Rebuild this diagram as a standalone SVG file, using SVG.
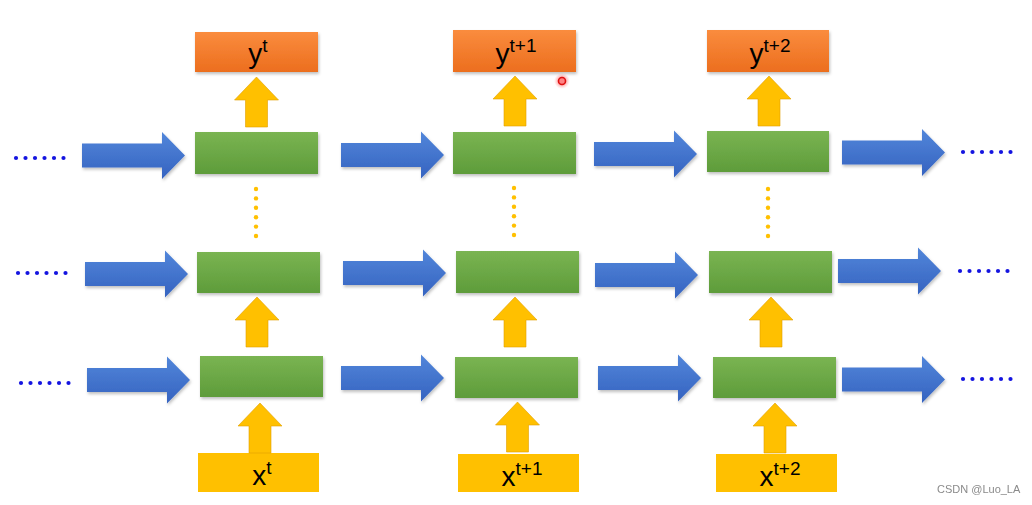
<svg xmlns="http://www.w3.org/2000/svg" xmlns:xlink="http://www.w3.org/1999/xlink" width="1032" height="505" viewBox="0 0 1032 505">
<defs>
<style>
.lbl{font-family:"Liberation Sans","Open Sans",Arial,sans-serif;font-size:28px;fill:#000;}
.sup{font-size:19px;}
.green{fill:url(#gGreen);filter:url(#sh);}
.orange{fill:url(#gOrange);filter:url(#sh);}
.yin{fill:#FFC000;}
.yarrow{fill:#FFC000;stroke:#E0A000;stroke-width:0.6;}
.barrow{fill:url(#gBlue);filter:url(#sh);}
.bdot{fill:#1414E0;}
.ydot{fill:#FFC000;}
.wm{font-family:"Liberation Sans",Arial,sans-serif;font-size:11px;fill:#8a8a8a;}
</style>
<linearGradient id="gGreen" x1="0" y1="0" x2="0" y2="1">
<stop offset="0" stop-color="#7AB452"/><stop offset="1" stop-color="#5E9C3A"/>
</linearGradient>
<linearGradient id="gOrange" x1="0" y1="0" x2="0" y2="1">
<stop offset="0" stop-color="#FA8C3E"/><stop offset="1" stop-color="#EC6E1E"/>
</linearGradient>
<linearGradient id="gBlue" x1="0" y1="0" x2="0" y2="1">
<stop offset="0" stop-color="#5286DA"/><stop offset="1" stop-color="#3563C0"/>
</linearGradient>
<filter id="sh" x="-10%" y="-20%" width="120%" height="150%">
<feDropShadow dx="1" dy="2" stdDeviation="1.5" flood-color="#000" flood-opacity="0.25"/>
</filter>
<radialGradient id="gCur">
<stop offset="0.3" stop-color="#ff3030" stop-opacity="0.6"/><stop offset="1" stop-color="#ff8080" stop-opacity="0"/>
</radialGradient>
<path id="ba" d="M0,-12 H80 V-23.5 L103,0 L80,23.5 V12 H0 Z"/>
<path id="ua" d="M0,0 L22,23 H11 V50 H-11 V23 H-22 Z"/>
<g id="bd6">
<circle cx="2" cy="0" r="2.1"/><circle cx="11.5" cy="0" r="2.1"/><circle cx="21" cy="0" r="2.1"/><circle cx="30.5" cy="0" r="2.1"/><circle cx="40" cy="0" r="2.1"/><circle cx="49.5" cy="0" r="2.1"/>
</g>
<g id="yd6">
<circle cx="0" cy="0" r="2.2"/><circle cx="0" cy="9.4" r="2.2"/><circle cx="0" cy="18.8" r="2.2"/><circle cx="0" cy="28.2" r="2.2"/><circle cx="0" cy="37.6" r="2.2"/><circle cx="0" cy="47" r="2.2"/>
</g>
</defs>
<rect width="1032" height="505" fill="#fff"/>

<!-- Output nodes -->
<g id="y_t"><rect class="orange" x="195" y="32" width="123" height="40"/><text class="lbl" x="258" y="63" text-anchor="middle">y<tspan class="sup" dy="-11">t</tspan></text></g>
<g id="y_t1"><rect class="orange" x="453" y="30" width="123" height="42"/><text class="lbl" x="516" y="63" text-anchor="middle">y<tspan class="sup" dy="-11">t+1</tspan></text></g>
<g id="y_t2"><rect class="orange" x="707" y="30" width="122" height="42"/><text class="lbl" x="770" y="63" text-anchor="middle">y<tspan class="sup" dy="-11">t+2</tspan></text></g>

<!-- Hidden layer nodes -->
<g id="h1_1"><rect class="green" x="195" y="132" width="123" height="42"/></g>
<g id="h2_1"><rect class="green" x="197" y="252" width="123" height="41"/></g>
<g id="h3_1"><rect class="green" x="200" y="356" width="123" height="41"/></g>
<g id="h1_2"><rect class="green" x="453" y="132" width="123" height="42"/></g>
<g id="h2_2"><rect class="green" x="456" y="251" width="123" height="42"/></g>
<g id="h3_2"><rect class="green" x="455" y="357" width="123" height="41"/></g>
<g id="h1_3"><rect class="green" x="707" y="131" width="122" height="41"/></g>
<g id="h2_3"><rect class="green" x="709" y="251" width="123" height="42"/></g>
<g id="h3_3"><rect class="green" x="713" y="357" width="123" height="41"/></g>

<!-- Input nodes -->
<g id="x_t"><rect class="yin" x="198" y="453" width="121" height="39"/><text class="lbl" x="262" y="485" text-anchor="middle">x<tspan class="sup" dy="-11">t</tspan></text></g>
<g id="x_t1"><rect class="yin" x="458" y="454" width="121" height="38"/><text class="lbl" x="522" y="486" text-anchor="middle">x<tspan class="sup" dy="-11">t+1</tspan></text></g>
<g id="x_t2"><rect class="yin" x="716" y="454" width="121" height="38"/><text class="lbl" x="780" y="486" text-anchor="middle">x<tspan class="sup" dy="-11">t+2</tspan></text></g>

<!-- Connectors -->
<g id="connectors">
<g class="barrow">
<use href="#ba" x="82" y="155.5"/><use href="#ba" x="341" y="155"/><use href="#ba" x="594" y="154"/><use href="#ba" x="842" y="152.5"/>
<use href="#ba" x="85" y="274"/><use href="#ba" x="343" y="273"/><use href="#ba" x="595" y="275"/><use href="#ba" x="838" y="271"/>
<use href="#ba" x="87" y="380"/><use href="#ba" x="341" y="378"/><use href="#ba" x="598" y="378"/><use href="#ba" x="842" y="379.5"/>
</g>
<g class="yarrow">
<use href="#ua" x="256.5" y="77"/><use href="#ua" x="515" y="76"/><use href="#ua" x="769" y="76"/>
<use href="#ua" x="257" y="297"/><use href="#ua" x="515" y="297"/><use href="#ua" x="771" y="297"/>
<use href="#ua" x="260" y="403"/><use href="#ua" x="517.5" y="402"/><use href="#ua" x="775" y="403"/>
</g>
<g class="ydot">
<use href="#yd6" x="256" y="189"/><use href="#yd6" x="514" y="188"/><use href="#yd6" x="768" y="189"/>
</g>
<g class="bdot">
<use href="#bd6" x="14" y="158"/><use href="#bd6" x="961" y="152"/>
<use href="#bd6" x="16" y="273"/><use href="#bd6" x="958" y="271"/>
<use href="#bd6" x="19" y="383"/><use href="#bd6" x="961" y="379"/>
</g>
</g>

<circle cx="562" cy="81" r="8" fill="url(#gCur)"/>
<circle cx="562" cy="81" r="3.5" fill="none" stroke="#e01010" stroke-width="1.6"/>

<text class="wm" x="937" y="493">CSDN @Luo_LA</text>
</svg>
